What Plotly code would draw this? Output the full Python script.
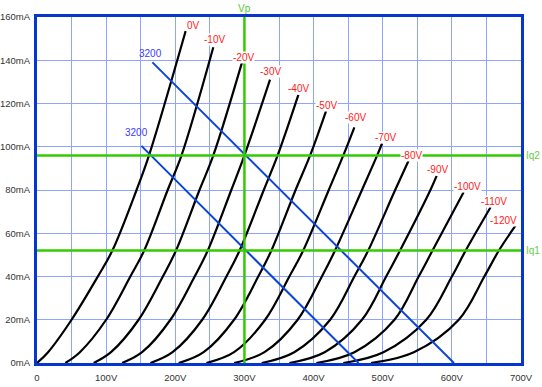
import plotly.graph_objects as go

# ---------------- data ----------------
grid_labels = ["0V", "-10V", "-20V", "-30V", "-40V", "-50V", "-60V",
               "-70V", "-80V", "-90V", "-100V", "-110V", "-120V"]

# plate voltage (V) at which each grid curve reaches the given plate current (mA)
current_levels = [0, 5, 20, 40, 52, 80, 96]
v_at_0mA = [0, 41, 82, 123, 164, 205, 245, 285, 325, 365, 404, 443, 483]
v_at_5mA = [16, 62, 107, 152, 196, 241, 285, 329, 372, 416, 459, 501, 545]
v_at_20mA = [50, 100, 147, 193, 239, 285, 330, 377, 424, 470, 517, 563, 610]
v_at_40mA = [88, 135, 182, 228, 274, 320, 365, 412, 459, 505, 552, 600, 647]
v_at_52mA = [109, 155, 201, 247, 293, 339, 385, 431, 479, 525, 572, 620, 668]
v_at_80mA = [144, 189, 235, 281, 328, 374, 422, 470, 518, 569, None, None, None]
v_at_96mA = [162, 209, 255, 300, 348, 395, 443, 492, None, None, None, None, None]

# end point of each curve
top_v = [215, 255, 296.5, 337, 378, 418, 459, 499, 538, 578, 617, 656, 692]
top_i = [153.5, 146, 139, 131, 124, 116.5, 109, 101.5, 94, 86.5, 79, 72, 63.5]

# load lines (3200 ohm)
load_a_v = [167, 603]
load_a_i = [139, 0]
load_b_v = [151, 465]
load_b_i = [100.4, 0]
load_label = "3200"

# operating point markers
vp_value = 300
iq1_value = 52
iq2_value = 96

x_tick_vals = [0, 100, 200, 300, 400, 500, 600, 700]
x_tick_text = ["0", "100V", "200V", "300V", "400V", "500V", "600V", "700V"]
y_tick_vals = [0, 20, 40, 60, 80, 100, 120, 140, 160]
y_tick_text = ["0mA", "20mA", "40mA", "60mA", "80mA", "100mA", "120mA", "140mA", "160mA"]
x_grid_vals = list(range(0, 701, 50))

# ---------------- styles ----------------
FONT = "Liberation Sans, Arial, sans-serif"
GRID = "#8ea4ff"
AXIS = "#0636cf"
LOAD = "#0a46d2"
GREEN = "#33cc00"
RED = "#ff1a1a"

label_xshift = [15, 13, 13, 12, 12, 12, 13, 15, 14, 12, 18, 17, 3]
label_yshift = [6, 8, 5, 8, 6, 6, 10, 6, 4, 6, 6, 6, 5]

fig = go.Figure()

columns = [v_at_0mA, v_at_5mA, v_at_20mA, v_at_40mA,
           v_at_52mA, v_at_80mA, v_at_96mA]
for k in range(len(grid_labels)):
    xs, ys = [], []
    for lvl, col in zip(current_levels, columns):
        v = col[k]
        if v is not None and lvl < top_i[k]:
            xs.append(v)
            ys.append(lvl)
    xs.append(top_v[k])
    ys.append(top_i[k])
    fig.add_trace(go.Scatter(x=xs, y=ys, mode="lines",
                             line=dict(color="black", width=2.2, shape="spline", smoothing=1.0),
                             hoverinfo="skip"))

# load lines
for lv, li in ((load_a_v, load_a_i), (load_b_v, load_b_i)):
    fig.add_trace(go.Scatter(x=lv, y=li, mode="lines",
                             line=dict(color=LOAD, width=2), hoverinfo="skip"))

# operating lines
fig.add_trace(go.Scatter(x=[vp_value, vp_value], y=[0, 160], mode="lines",
                         line=dict(color=GREEN, width=2.5), hoverinfo="skip"))
for iq in (iq1_value, iq2_value):
    fig.add_trace(go.Scatter(x=[0, 700], y=[iq, iq], mode="lines",
                             line=dict(color=GREEN, width=2.5), hoverinfo="skip"))

ann = []
for k, lab in enumerate(grid_labels):
    ann.append(dict(x=top_v[k], y=top_i[k], xref="x", yref="y", text=lab,
                    showarrow=False, xanchor="right", yanchor="middle",
                    xshift=label_xshift[k], yshift=label_yshift[k],
                    font=dict(family=FONT, size=10, color=RED),
                    bgcolor="white", borderpad=0))

ann.append(dict(x=load_a_v[0], y=load_a_i[0], xref="x", yref="y", text=load_label,
                showarrow=False, xanchor="center", yanchor="middle",
                xshift=-2, yshift=9, font=dict(family=FONT, size=10, color="#3a3aff")))
ann.append(dict(x=load_b_v[0], y=load_b_i[0], xref="x", yref="y", text=load_label,
                showarrow=False, xanchor="center", yanchor="middle",
                xshift=-5, yshift=13, font=dict(family=FONT, size=10, color="#3a3aff")))

ann.append(dict(x=vp_value, y=1, xref="x", yref="paper", text="Vp", showarrow=False,
                xanchor="center", yanchor="bottom", yshift=1,
                font=dict(family=FONT, size=10, color="#55cc33")))
ann.append(dict(x=1, y=iq2_value, xref="paper", yref="y", text="Iq2", showarrow=False,
                xanchor="left", yanchor="middle", xshift=3,
                font=dict(family=FONT, size=10, color="#66cc44")))
ann.append(dict(x=1, y=iq1_value, xref="paper", yref="y", text="Iq1", showarrow=False,
                xanchor="left", yanchor="middle", xshift=3,
                font=dict(family=FONT, size=10, color="#66cc44")))

fig.update_layout(
    width=542, height=387,
    margin=dict(l=37, r=21, t=17, b=24, autoexpand=False),
    paper_bgcolor="white", plot_bgcolor="white",
    showlegend=False,
    annotations=ann,
    font=dict(family=FONT, size=10, color="#333"),
)

fig.update_xaxes(range=[0, 700], tickmode="array", tickvals=x_tick_vals, ticktext=x_tick_text,
                 automargin=False,
                 showgrid=False, zeroline=False, showline=True, mirror=True,
                 linecolor=AXIS, linewidth=3, ticks="outside", ticklen=4, tickcolor="rgba(0,0,0,0)",
                 tickfont=dict(family=FONT, size=9.5, color="#333"),
                 minor=dict(tickmode="array", tickvals=x_grid_vals, showgrid=True,
                            gridcolor=GRID, gridwidth=1, ticks=""))
fig.update_yaxes(range=[0, 160], tickmode="array", tickvals=y_tick_vals, ticktext=y_tick_text,
                 automargin=False,
                 showgrid=True, gridcolor=GRID, gridwidth=1, zeroline=False,
                 showline=True, mirror=True, linecolor=AXIS, linewidth=3,
                 ticks="outside", ticklen=2, tickcolor="rgba(0,0,0,0)",
                 tickfont=dict(family=FONT, size=9.5, color="#333"))

fig.write_html("out.html", config={"displayModeBar": False},
               post_script="document.body.style.margin='0';document.body.style.overflow='hidden';")
